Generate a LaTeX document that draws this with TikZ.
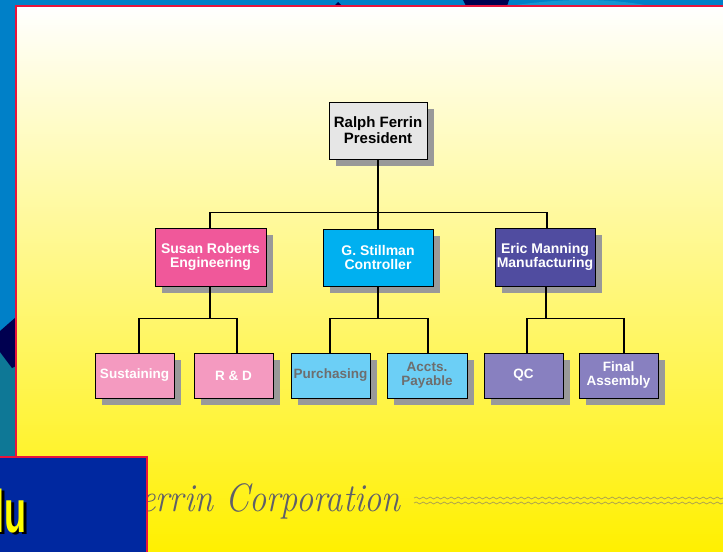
\documentclass[tikz,border=0pt]{standalone}
\usepackage{fontspec}
\newfontfamily\boxfont{Liberation Sans}
\usetikzlibrary{decorations.pathmorphing,shadows}
\definecolor{bgblue}{RGB}{0,128,200}
\definecolor{tealc}{RGB}{14,120,150}
\definecolor{navyc}{RGB}{0,0,80}
\definecolor{lightbl}{RGB}{20,150,210}
\definecolor{redc}{RGB}{232,20,60}
\definecolor{boxnavy}{RGB}{0,40,160}
\definecolor{yellowbot}{RGB}{255,240,0}
\definecolor{presfill}{RGB}{230,230,230}
\definecolor{engfill}{RGB}{240,88,154}
\definecolor{ctlfill}{RGB}{0,176,240}
\definecolor{manfill}{RGB}{80,76,160}
\definecolor{susfill}{RGB}{244,154,192}
\definecolor{purfill}{RGB}{108,207,246}
\definecolor{qcfill}{RGB}{136,128,192}
\definecolor{shadowgray}{RGB}{153,153,153}
\definecolor{purtext}{RGB}{110,110,110}
\definecolor{footgray}{RGB}{95,95,105}
\definecolor{wavec}{RGB}{170,160,80}
\definecolor{yeltext}{RGB}{255,255,0}
\begin{document}
\begin{tikzpicture}[x=1bp,y=-1bp,
  orgbox/.style={draw=black, line width=0.8bp, align=center, inner sep=0pt,
    font=\boxfont\bfseries\fontsize{13.5bp}{14bp}\selectfont,
    drop shadow={shadow xshift=7bp, shadow yshift=-7bp, fill=shadowgray, opacity=1}},
  lvltwo/.style={orgbox, minimum height=58bp, font=\boxfont\bfseries\fontsize{14bp}{14.5bp}\selectfont},
  lvlthree/.style={orgbox, minimum height=45bp, minimum width=79bp},
  conn/.style={draw=black, line width=1.2bp},
  wave/.style={draw=wavec, line width=0.7bp, decorate,
    decoration={snake, segment length=7bp, amplitude=1bp}}]
\useasboundingbox (0,0) rectangle (723,552);
% background
\fill[bgblue] (0,0) rectangle (723,552);
\fill[tealc] (0,350) rectangle (16,460);
\fill[navyc] (16,317) -- (0,331) -- (0,352) -- (12,368) -- (16,366) -- cycle;
\fill[navyc] (463,0) -- (509,0) -- (507,6) -- (466,6) -- cycle;
\fill[navyc] (334,6) -- (338,2) -- (342,6) -- cycle;
\fill[lightbl] (510,6) .. controls (560,-2) and (610,-2) .. (650,6) -- cycle;
% panel
\shade[top color=white, bottom color=yellowbot] (16,6) rectangle (723,552);
\draw[redc, line width=2bp] (16,552) -- (16,6) -- (723,6);
% org chart
\node[orgbox, fill=presfill, minimum width=98bp, minimum height=57bp,
  font=\boxfont\bfseries\fontsize{15bp}{16bp}\selectfont] (pres) at (378,130.5) {Ralph Ferrin\\President};
\node[lvltwo, fill=engfill, text=white, minimum width=111bp] (eng) at (210.5,257) {Susan Roberts\\Engineering};
\node[lvltwo, fill=ctlfill, text=white, minimum width=110bp, minimum height=57bp] (ctl) at (378,257.5) {G. Stillman\\Controller};
\node[lvltwo, fill=manfill, text=white, minimum width=100bp] (man) at (545,257) {Eric Manning\\Manufacturing};
\node[lvlthree, fill=susfill, text=white] (sus) at (134.5,375.5) {Sustaining};
\node[lvlthree, fill=susfill, text=white] (rd) at (233.5,375.5) {R \& D};
\node[lvlthree, fill=purfill, text=purtext] (pur) at (330.5,375.5) {Purchasing};
\node[lvlthree, fill=purfill, text=purtext, minimum width=80bp] (acc) at (427,375.5) {Accts.\\Payable};
\node[lvlthree, fill=qcfill, text=white] (qc) at (523.5,375.5) {QC};
\node[lvlthree, fill=qcfill, text=white] (fin) at (618.5,375.5) {Final\\Assembly};
% connectors
\draw[conn] (pres.south) -- (ctl.north);
\draw[conn] ([xshift=-0.5bp]eng.north) -- ++(0,-15) -| ([xshift=2bp]man.north);
\draw[conn] ([xshift=-0.5bp]eng.south) -- ++(0,33);
\draw[conn] (ctl.south) -- ++(0,33);
\draw[conn] ([xshift=1bp]man.south) -- ++(0,33);
\draw[conn] ([xshift=4.5bp]sus.north) -- ++(0,-34) -| ([xshift=3.5bp]rd.north);
\draw[conn] ([xshift=-0.5bp]pur.north) -- ++(0,-34) -| ([xshift=1bp]acc.north);
\draw[conn] ([xshift=3.5bp]qc.north) -- ++(0,-34) -| ([xshift=5.5bp]fin.north);
% footer
\node[anchor=base east, inner sep=0pt, text=footgray,
  font=\itshape\fontsize{37.4bp}{37.4bp}\selectfont] (foot) at (401,511) {\scalebox{0.92}[1.06]{Ferrin Corporation}};
\draw[wave] ([xshift=13bp,yshift=13bp]foot.base east) -- ++(310,0);
\draw[wave] ([xshift=13bp,yshift=8bp]foot.base east) -- ++(310,0);
% bottom-left box
\fill[boxnavy] (0,457) rectangle (147,552);
\draw[redc, line width=2bp] (0,457) -- (147,457) -- (147,553);
\begin{scope}
\clip (0,458) rectangle (146,552);
\node[anchor=base east, inner sep=0pt, text=black,
  font=\boxfont\bfseries\fontsize{60bp}{60bp}\selectfont] (menushadow) at (29.5,534.5) {\scalebox{0.6}[1]{lu}};
\node[anchor=base east, inner sep=0pt, text=yeltext,
  font=\boxfont\bfseries\fontsize{60bp}{60bp}\selectfont] (menu) at (27,532) {\scalebox{0.6}[1]{lu}};
\end{scope}
\end{tikzpicture}
\end{document}
